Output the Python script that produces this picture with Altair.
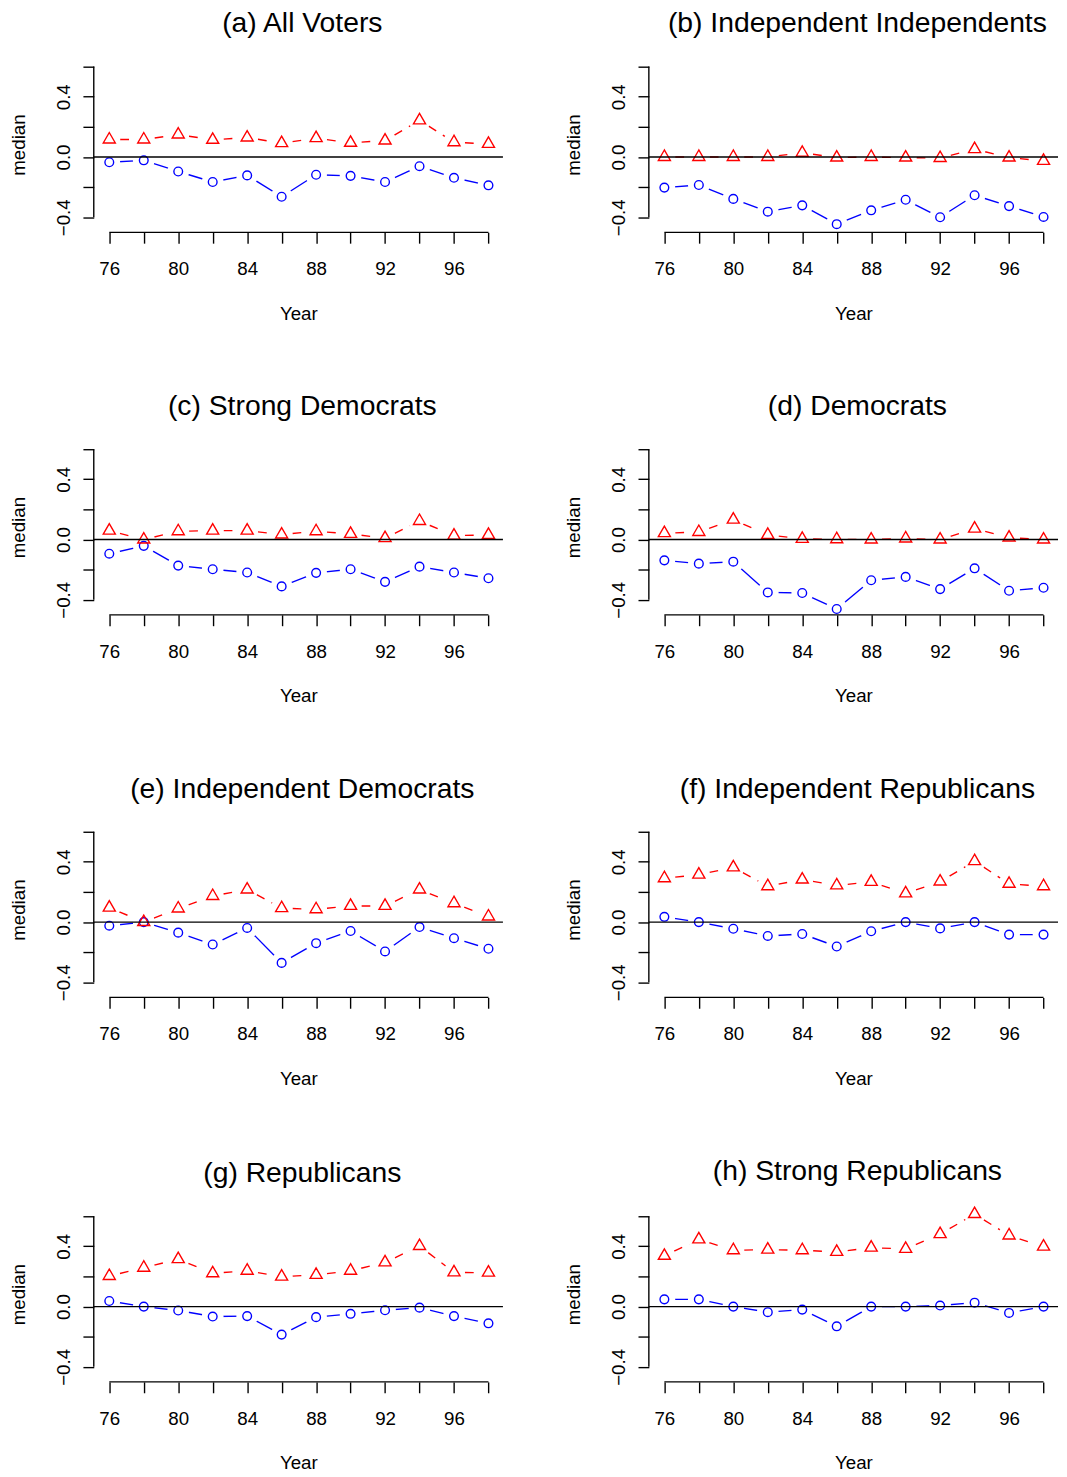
import altair as alt
import pandas as pd

YEARS = [76, 78, 80, 82, 84, 86, 88, 90, 92, 94, 96, 98]

TITLES = [
    "(a) All Voters", "(b) Independent Independents",
    "(c) Strong Democrats", "(d) Democrats",
    "(e) Independent Democrats", "(f) Independent Republicans",
    "(g) Republicans", "(h) Strong Republicans",
]

RED = [
    [0.116, 0.116, 0.149, 0.114, 0.129, 0.092, 0.125, 0.094, 0.109, 0.243, 0.098, 0.087],
    [0.0, 0.0, 0.0, 0.0, 0.028, -0.004, 0.0, -0.004, -0.007, 0.052, -0.004, -0.026],
    [0.059, 0.0, 0.055, 0.059, 0.059, 0.033, 0.055, 0.037, 0.009, 0.123, 0.026, 0.031],
    [0.042, 0.050, 0.132, 0.031, 0.004, 0.002, 0.0, 0.007, 0.0, 0.072, 0.013, 0.0],
    [0.096, 0.0, 0.090, 0.173, 0.216, 0.092, 0.085, 0.107, 0.107, 0.216, 0.125, 0.037],
    [0.291, 0.315, 0.363, 0.238, 0.282, 0.243, 0.267, 0.190, 0.269, 0.404, 0.254, 0.238],
    [0.203, 0.258, 0.315, 0.221, 0.238, 0.199, 0.210, 0.238, 0.293, 0.402, 0.227, 0.225],
    [0.337, 0.446, 0.374, 0.378, 0.374, 0.363, 0.391, 0.383, 0.481, 0.614, 0.472, 0.398],
]

BLUE = [
    [-0.035, -0.022, -0.096, -0.166, -0.122, -0.264, -0.118, -0.125, -0.166, -0.061, -0.138, -0.188],
    [-0.203, -0.186, -0.278, -0.363, -0.321, -0.446, -0.354, -0.284, -0.400, -0.254, -0.326, -0.398],
    [-0.094, -0.042, -0.173, -0.197, -0.219, -0.311, -0.221, -0.197, -0.281, -0.180, -0.219, -0.257],
    [-0.138, -0.160, -0.147, -0.351, -0.355, -0.461, -0.270, -0.248, -0.329, -0.191, -0.340, -0.320],
    [-0.024, 0.0, -0.070, -0.149, -0.039, -0.271, -0.140, -0.059, -0.195, -0.033, -0.107, -0.177],
    [0.035, 0.0, -0.044, -0.092, -0.079, -0.162, -0.061, 0.0, -0.042, 0.0, -0.083, -0.083],
    [0.037, 0.0, -0.026, -0.066, -0.063, -0.186, -0.070, -0.048, -0.024, -0.007, -0.063, -0.111],
    [0.048, 0.048, 0.0, -0.037, -0.020, -0.131, 0.0, 0.0, 0.007, 0.026, -0.042, 0.0],
]

Y_TICKS = [-0.4, -0.2, 0.0, 0.2, 0.4, 0.6]

XMIN, XMAX = 75.1, 98.84
YMIN, YMAX = -0.5, 0.665
W, H = 415, 178
FONT = "Liberation Sans"
LW = 1.4

xs = alt.Scale(domain=[XMIN, XMAX], nice=False, zero=False)
ys = alt.Scale(domain=[YMIN, YMAX], nice=False, zero=False)

x_axis = alt.Axis(
    values=YEARS, format="d",
    labelExpr="datum.value % 4 == 0 ? datum.label : ''",
    domain=False, grid=False, tickSize=11, tickWidth=LW, tickColor="black",
    labelFontSize=19, labelFont=FONT, labelColor="black", labelPadding=32,
    labelBaseline="alphabetic", labelFlush=False, labelOverlap=False,
    title="Year", titleFontSize=19, titleFont=FONT, titleFontWeight="normal",
    titleColor="black", titleX=W / 2, titleY=88, titleBaseline="alphabetic",
    titleAlign="center",
)
y_axis = alt.Axis(
    values=Y_TICKS, format=".1f",
    labelExpr="abs(datum.value) < 0.01 || abs(abs(datum.value) - 0.4) < 0.01 ? datum.label : ''",
    domain=False, grid=False, tickSize=11, tickWidth=LW, tickColor="black",
    labelFontSize=19, labelFont=FONT, labelColor="black", labelPadding=14,
    labelAngle=270, labelAlign="center", labelBaseline="alphabetic",
    labelFlush=False, labelOverlap=False,
    title="median", titleFontSize=19, titleFont=FONT, titleFontWeight="normal",
    titleColor="black", titleAngle=270, titleX=-70, titleY=H / 2,
    titleBaseline="alphabetic", titleAlign="center",
)


def segments(vals):
    rows = []
    for i in range(len(YEARS) - 1):
        rows.append({"seg": i, "year": YEARS[i], "value": vals[i]})
        rows.append({"seg": i, "year": YEARS[i + 1], "value": vals[i + 1]})
    return pd.DataFrame(rows)


def panel(k):
    pts = pd.DataFrame({
        "year": YEARS * 2,
        "value": RED[k] + BLUE[k],
        "series": ["red"] * len(YEARS) + ["blue"] * len(YEARS),
    })
    red_pts = pts[pts.series == "red"]
    blue_pts = pts[pts.series == "blue"]

    X = alt.X("year:Q", scale=xs, axis=x_axis)
    Y = alt.Y("value:Q", scale=ys, axis=y_axis)

    blue_line = alt.Chart(segments(BLUE[k])).mark_line(
        color="#0000FF", strokeWidth=LW
    ).encode(x=X, y=Y, detail="seg:N")
    red_line = alt.Chart(segments(RED[k])).mark_line(
        color="#FF0000", strokeWidth=LW, strokeDash=[9, 8], strokeDashOffset=6
    ).encode(x=X, y=Y, detail="seg:N")
    masks = alt.Chart(pts).mark_circle(
        color="white", size=484, opacity=1, clip=True
    ).encode(x=X, y=Y)
    blue_pt = alt.Chart(blue_pts).mark_point(
        shape="circle", filled=False, color="#0000FF", size=78, strokeWidth=LW, opacity=1
    ).encode(x=X, y=Y)
    red_pt = alt.Chart(red_pts).mark_point(
        shape="triangle-up", filled=False, color="#FF0000", size=150, strokeWidth=LW,
        opacity=1, yOffset=-1.8
    ).encode(x=X, y=Y)

    zero = alt.Chart(pd.DataFrame({"v": [0.0]})).mark_rule(
        color="black", strokeWidth=LW
    ).encode(y=alt.Y("v:Q", scale=ys, axis=y_axis))
    xline = alt.Chart(pd.DataFrame({"a": [YEARS[0]], "b": [YEARS[-1]], "v": [YMIN]})).mark_rule(
        color="black", strokeWidth=LW
    ).encode(x=alt.X("a:Q", scale=xs, axis=x_axis), x2="b:Q",
             y=alt.Y("v:Q", scale=ys, axis=y_axis))
    yline = alt.Chart(pd.DataFrame({"a": [Y_TICKS[0]], "b": [Y_TICKS[-1]], "x": [XMIN]})).mark_rule(
        color="black", strokeWidth=LW
    ).encode(y=alt.Y("a:Q", scale=ys, axis=y_axis), y2="b:Q",
             x=alt.X("x:Q", scale=xs, axis=x_axis))

    return alt.layer(
        blue_line, red_line, masks, blue_pt, red_pt, zero, xline, yline
    ).properties(
        width=W, height=H,
        title=alt.TitleParams(
            TITLES[k], fontSize=28.7, font=FONT, fontWeight="normal", color="black",
            anchor="middle", frame="group", offset=-4, dx=4, baseline="alphabetic",
        ),
    )


rows = [alt.hconcat(panel(2 * r), panel(2 * r + 1), spacing=62) for r in range(4)]
chart = alt.vconcat(*rows, spacing=70).properties(
    padding={"left": 2, "top": -9, "right": 0, "bottom": 0}
).configure_view(stroke=None)

chart.save("out.html", embed_options={"renderer": "svg", "actions": False})
